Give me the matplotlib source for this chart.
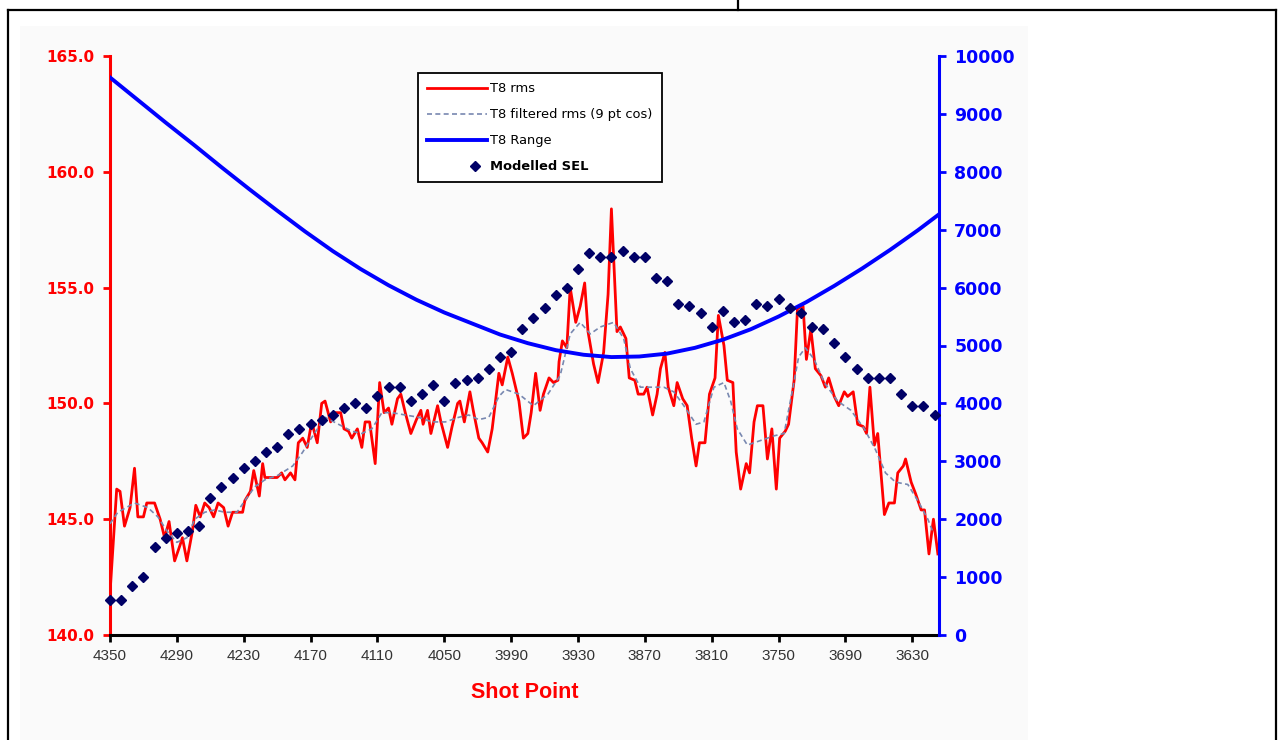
import numpy as np
import matplotlib.pyplot as plt
from matplotlib.lines import Line2D
from matplotlib.patches import Rectangle
from matplotlib.ticker import FormatStrFormatter
from matplotlib.legend_handler import HandlerLine2D

# T8 rms level (dB) against shot point
rms_shot = [4350, 4344, 4341, 4337, 4332, 4328, 4325, 4320, 4317, 4310,
            4305, 4301, 4297, 4292, 4287, 4285, 4281, 4276, 4273, 4269,
            4265, 4261, 4257, 4253, 4248, 4244, 4240, 4235, 4231, 4229,
            4224, 4221, 4216, 4213, 4211, 4204, 4200, 4196, 4193, 4188,
            4184, 4181, 4177, 4173, 4169, 4164, 4160, 4157, 4152, 4148,
            4143, 4140, 4136, 4133, 4128, 4124, 4121, 4117, 4112, 4108,
            4104, 4100, 4097, 4092, 4089, 4085, 4080, 4075, 4071, 4069,
            4065, 4062, 4056, 4053, 4047, 4043, 4038, 4036, 4032, 4027,
            4024, 4019, 4016, 4011, 4007, 4001, 3998, 3993, 3989, 3983,
            3979, 3975, 3972, 3968, 3964, 3961, 3956, 3952, 3948, 3947,
            3944, 3940, 3937, 3932, 3928, 3924, 3921, 3916, 3912, 3907,
            3903, 3900, 3895, 3892, 3887, 3884, 3879, 3876, 3871, 3868,
            3863, 3859, 3856, 3852, 3849, 3844, 3841, 3836, 3832, 3828,
            3824, 3821, 3816, 3812, 3807, 3804, 3799, 3796, 3791, 3788,
            3784, 3779, 3776, 3772, 3769, 3764, 3760, 3756, 3752, 3749,
            3744, 3741, 3736, 3733, 3728, 3725, 3721, 3717, 3712, 3708,
            3705, 3700, 3696, 3691, 3688, 3683, 3679, 3674, 3671, 3668,
            3664, 3661, 3655, 3651, 3646, 3643, 3638, 3636, 3631, 3627,
            3622, 3619, 3615, 3611, 3607]
rms_db = [141.8, 146.3, 146.2, 144.7, 145.5, 147.2, 145.1, 145.1, 145.7, 145.7,
          145.0, 144.2, 144.9, 143.2, 143.9, 144.2, 143.2, 144.5, 145.6, 145.1,
          145.7, 145.5, 145.1, 145.7, 145.5, 144.7, 145.3, 145.3, 145.3, 145.8,
          146.2, 147.1, 146.0, 147.4, 146.8, 146.8, 146.8, 147.0, 146.7, 147.0,
          146.7, 148.3, 148.5, 148.1, 149.2, 148.3, 150.0, 150.1, 149.2, 149.6,
          149.6, 148.9, 148.8, 148.5, 148.9, 148.1, 149.2, 149.2, 147.4, 150.9,
          149.6, 149.8, 149.1, 150.2, 150.4, 149.6, 148.7, 149.3, 149.7, 149.1,
          149.7, 148.7, 149.9, 149.2, 148.1, 149.0, 150.0, 150.1, 149.2, 150.5,
          149.7, 148.5, 148.3, 147.9, 148.9, 151.3, 150.8, 152.0, 151.3, 150.1,
          148.5, 148.7, 149.6, 151.3, 149.7, 150.4, 151.1, 150.9, 151.0, 151.8,
          152.7, 152.4, 155.0, 153.5, 154.2, 155.2, 153.1, 151.7, 150.9, 152.2,
          154.7, 158.4, 153.1, 153.3, 152.8, 151.1, 151.0, 150.4, 150.4, 150.7,
          149.5, 150.4, 151.5, 152.2, 150.7, 149.9, 150.9, 150.2, 149.9, 148.5,
          147.3, 148.3, 148.3, 150.4, 151.1, 153.8, 152.5, 151.0, 150.9, 147.9,
          146.3, 147.4, 147.0, 149.2, 149.9, 149.9, 147.6, 148.9, 146.3, 148.5,
          148.8, 149.1, 151.0, 154.1, 154.2, 151.9, 153.2, 151.5, 151.2, 150.7,
          151.1, 150.3, 149.9, 150.5, 150.3, 150.5, 149.1, 149.0, 148.7, 150.7,
          148.2, 148.7, 145.2, 145.7, 145.7, 147.0, 147.3, 147.6, 146.6, 146.1,
          145.4, 145.4, 143.5, 145.0, 143.5]

# 9 point cosine filtered rms
filt_shot = [4350, 4343, 4328, 4316, 4307, 4299, 4290, 4281, 4274, 4265,
             4256, 4247, 4236, 4229, 4220, 4211, 4199, 4186, 4177, 4172,
             4157, 4145, 4133, 4124, 4115, 4106, 4097, 4085, 4073, 4061,
             4049, 4037, 4028, 4019, 4010, 4001, 3995, 3983, 3970, 3957,
             3946, 3937, 3928, 3919, 3910, 3898, 3889, 3883, 3874, 3865,
             3853, 3844, 3835, 3824, 3817, 3808, 3799, 3793, 3787, 3778,
             3766, 3754, 3745, 3737, 3732, 3726, 3718, 3709, 3697, 3685,
             3673, 3663, 3654, 3645, 3634, 3625, 3616, 3611]
filt_db = [144.8, 145.3, 145.7, 145.5, 145.1, 144.5, 144.0, 144.2, 145.0, 145.3,
           145.4, 145.3, 145.3, 145.8, 146.4, 146.7, 146.9, 147.3, 147.9, 148.3,
           149.4, 149.1, 148.8, 148.7, 148.9, 149.6, 149.6, 149.5, 149.4, 149.2,
           149.2, 149.4, 149.5, 149.3, 149.4, 150.3, 150.6, 150.4, 149.9, 150.4,
           151.2, 153.0, 153.5, 153.0, 153.3, 153.5, 152.8, 151.5, 150.7, 150.7,
           150.7, 150.5, 149.9, 149.1, 149.2, 150.7, 150.9, 150.1, 148.9, 148.2,
           148.4, 148.6, 148.7, 150.7, 152.0, 152.4, 151.9, 150.9, 150.1, 149.7,
           148.9, 148.0, 147.0, 146.6, 146.5, 145.8, 145.0, 144.4]

# T8 range (m)
range_shot = [4350, 4325, 4300, 4275, 4250, 4225, 4200, 4175, 4150, 4125,
              4100, 4075, 4050, 4025, 4000, 3975, 3950, 3925, 3900, 3875,
              3850, 3825, 3800, 3775, 3750, 3725, 3700, 3675, 3650, 3625, 3605]
range_m = [9630, 9240, 8850, 8470, 8080, 7700, 7330, 6970, 6630, 6320,
           6040, 5790, 5570, 5380, 5190, 5040, 4920, 4840, 4800, 4810,
           4860, 4960, 5100, 5280, 5500, 5750, 6030, 6330, 6650, 6990, 7280]

# Modelled SEL every 10 shot points
sel_shot = list(range(4350, 3609, -10))
sel_db = [141.5, 141.5, 142.1, 142.5, 143.8, 144.2, 144.4, 144.5, 144.7, 145.9,
          146.4, 146.8, 147.2, 147.5, 147.9, 148.1, 148.7, 148.9, 149.1, 149.3,
          149.5, 149.8, 150.0, 149.8, 150.3, 150.7, 150.7, 150.1, 150.4, 150.8,
          150.1, 150.9, 151.0, 151.1, 151.5, 152.0, 152.2, 153.2, 153.7, 154.1,
          154.7, 155.0, 155.8, 156.5, 156.3, 156.3, 156.6, 156.3, 156.3, 155.4,
          155.3, 154.3, 154.2, 153.9, 153.3, 154.0, 153.5, 153.6, 154.3, 154.2,
          154.5, 154.1, 153.9, 153.3, 153.2, 152.6, 152.0, 151.5, 151.1, 151.1,
          151.1, 150.4, 149.9, 149.9, 149.5]

x_ticks = list(range(4350, 3629, -60))

RED = '#ff0000'
BLUE = '#0000ff'
NAVY = '#000066'
W, H = 1284, 740

fig = plt.figure(figsize=(W / 100, H / 100), dpi=100)
fig.patch.set_facecolor('white')

# faint panel behind the chart and the table frame lines
fig.add_artist(Rectangle((20 / W, 0), 1008 / W, 1 - 26 / H, transform=fig.transFigure,
                         facecolor='#fafafa', edgecolor='none', zorder=0))
frame = dict(color='black', lw=1.6, transform=fig.transFigure)
fig.add_artist(Line2D([8 / W, 1276 / W], [1 - 10 / H] * 2, **frame))
fig.add_artist(Line2D([8 / W] * 2, [0, 1 - 10 / H], **frame))
fig.add_artist(Line2D([1276 / W] * 2, [0, 1 - 10 / H], **frame))
fig.add_artist(Line2D([738 / W] * 2, [1 - 10 / H, 1], **frame))

ax = fig.add_axes([110 / W, 1 - 635 / H, 829 / W, 579 / H])
ax.set_facecolor('none')
ax2 = ax.twinx()

ax.plot(rms_shot, rms_db, color=RED, lw=2.0, zorder=3)
ax.plot(filt_shot, filt_db, color='#7888b0', lw=1.2, dashes=(3, 2), zorder=4)
ax2.plot(range_shot, range_m, color=BLUE, lw=2.8, zorder=3)
# diamonds sit above the range curve, on the dB scale
ax2.plot(sel_shot, sel_db, linestyle='none', marker='D', ms=4.6, color=NAVY,
         transform=ax.transData, zorder=5, clip_on=False)

ax.set_xlim(4350, 3606)
ax.set_ylim(140, 165)
ax2.set_ylim(0, 10000)
ax.set_xticks(x_ticks)
ax.set_yticks(np.arange(140, 166, 5))
ax2.set_yticks(np.arange(0, 10001, 1000))
ax.yaxis.set_major_formatter(FormatStrFormatter('%.1f'))

for a in (ax, ax2):
    a.spines['top'].set_visible(False)
ax.spines['left'].set_color(RED)
ax.spines['left'].set_linewidth(2.2)
ax.spines['right'].set_visible(False)
ax.spines['bottom'].set_linewidth(2.2)
ax2.spines['left'].set_visible(False)
ax2.spines['bottom'].set_visible(False)
ax2.spines['right'].set_color(BLUE)
ax2.spines['right'].set_linewidth(2.2)

ax.tick_params(axis='y', colors=RED, width=2, length=5, pad=6, labelsize=11)
ax2.tick_params(axis='y', colors=BLUE, width=2, length=5, pad=6, labelsize=12.5)
ax.tick_params(axis='x', colors='black', width=2, length=5, pad=5,
               labelsize=11, labelcolor='#333333')
for lab in ax.get_yticklabels() + ax2.get_yticklabels():
    lab.set_fontweight('bold')
    lab.set_family('DejaVu Sans')
for lab in ax.get_xticklabels():
    lab.set_family('Liberation Sans')

ax.set_xlabel('Shot Point', color=RED, fontsize=15.5, fontweight='bold',
              family='Liberation Sans', labelpad=14)


class EndMarker(HandlerLine2D):
    # marker drawn towards the text end of the handle
    def get_xdata(self, legend, xdescent, ydescent, width, height, fontsize):
        x = width * 0.8 - xdescent
        return np.array([x]), np.array([x])


handles = [Line2D([], [], color=RED, lw=2.0),
           Line2D([], [], color='#7888b0', lw=1.2, dashes=(3, 2)),
           Line2D([], [], color=BLUE, lw=2.8),
           Line2D([], [], linestyle='none', marker='D', ms=4.6, color=NAVY)]
labels = ['T8 rms', 'T8 filtered rms (9 pt cos)', 'T8 Range', 'Modelled SEL']
leg = fig.legend(handles, labels, loc='upper left',
                 bbox_to_anchor=(418 / W, 1 - 73 / H), borderaxespad=0,
                 prop={'family': 'DejaVu Sans', 'size': 9.4},
                 handlelength=4.6, handletextpad=0.25, labelspacing=1.0,
                 borderpad=0.7, fancybox=False, framealpha=1,
                 edgecolor='black', handler_map={handles[3]: EndMarker()})
leg.get_frame().set_linewidth(1.3)
leg.get_texts()[3].set_fontweight('bold')

fig.savefig('out.png', dpi=100)
